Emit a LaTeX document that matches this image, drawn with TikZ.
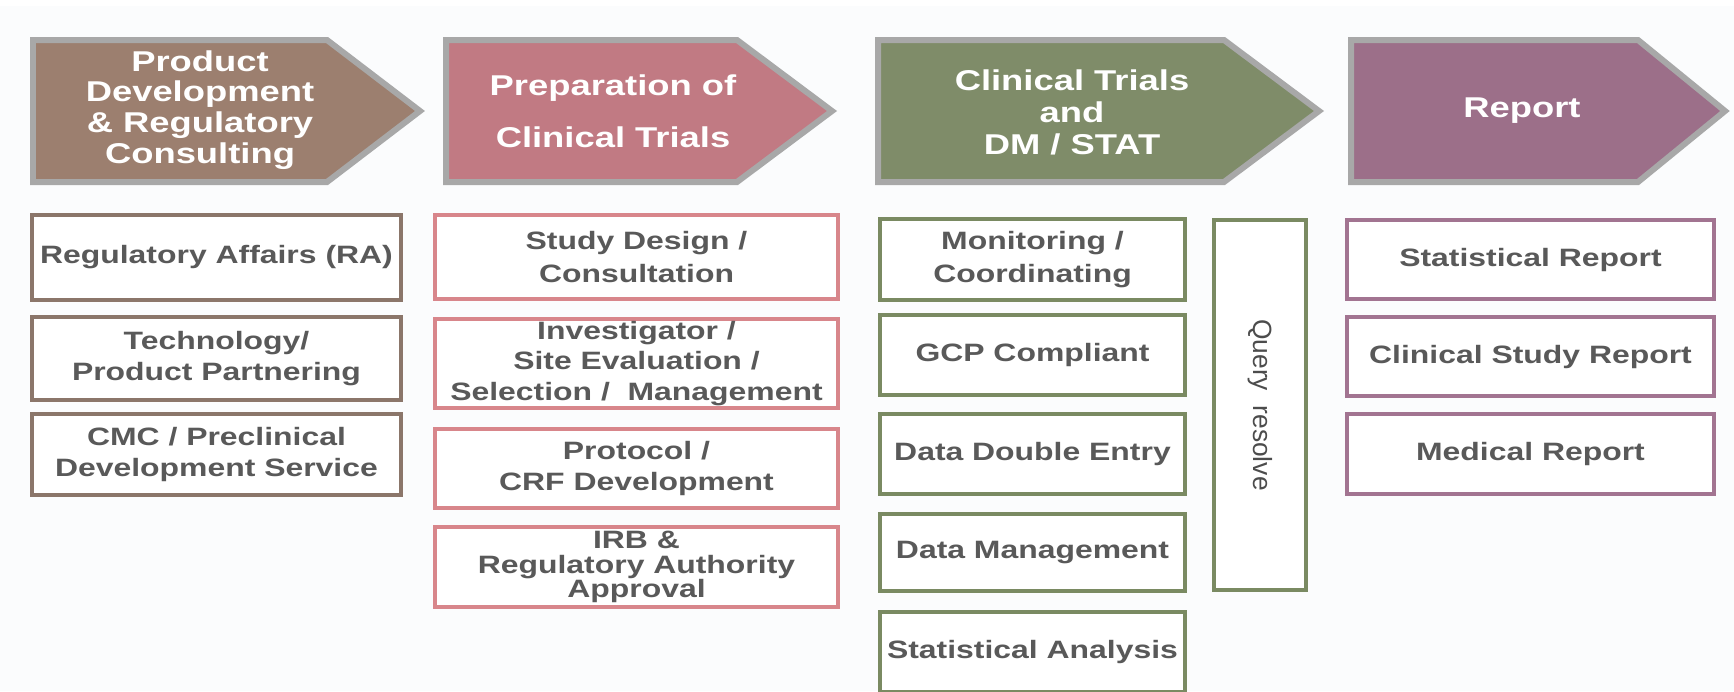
\documentclass[tikz,border=0pt]{standalone}
\usepackage{fontspec}
\newfontfamily\widesans{Liberation Sans}[FakeStretch=1.27]
\newfontfamily\plainsans{Liberation Sans}
\usepackage{tikz}
\definecolor{pdbrown}{HTML}{9C7F6F}
\definecolor{pdbrownline}{HTML}{8B766A}
\definecolor{prpink}{HTML}{C17A83}
\definecolor{prpinkline}{HTML}{D8868B}
\definecolor{ctgreen}{HTML}{7F8C69}
\definecolor{ctgreenline}{HTML}{7A8A62}
\definecolor{rppurple}{HTML}{9C6F89}
\definecolor{rppurpleline}{HTML}{A27491}
\definecolor{hdgray}{HTML}{A8A8A8}
\definecolor{txtgray}{HTML}{595959}
\definecolor{bgfaint}{HTML}{FBFCFD}

\begin{document}
\begin{tikzpicture}[x=0.02cm, y=-0.02cm,
  header/.style={draw=hdgray, line width=0.12cm},
  htext/.style={text=white, align=center, font=\widesans\bfseries\fontsize{16.3}{17.5}\selectfont},
  item/.style={draw, line width=0.08cm, fill=white, text=txtgray, align=center, inner sep=0pt,
    font=\widesans\bfseries\fontsize{14.3}{17.5}\selectfont},
  pdbox/.style={item, draw=pdbrownline, minimum width=7.38cm},
  prbox/.style={item, draw=prpinkline, minimum width=8.06cm},
  ctbox/.style={item, draw=ctgreenline, minimum width=6.10cm},
  rpbox/.style={item, draw=rppurpleline, minimum width=7.34cm}]
  \useasboundingbox (0,0) rectangle (1734,691);
  \fill[bgfaint] (0,6) rectangle (1734,691);

  \draw[header, fill=pdbrown] (33,40) -- (327,40) -- (420,111) -- (327,182) -- (33,182) -- cycle;
  \draw[header, fill=prpink] (446,40) -- (737,40) -- (832,111) -- (737,182) -- (446,182) -- cycle;
  \draw[header, fill=ctgreen] (878,40) -- (1224,40) -- (1319,111) -- (1224,182) -- (878,182) -- cycle;
  \draw[header, fill=rppurple] (1351,40) -- (1638,40) -- (1725,111) -- (1638,182) -- (1351,182) -- cycle;
  \node[htext] (pd) at (200,110) {Product\\Development\\\& Regulatory\\Consulting};
  \node[htext, font=\widesans\bfseries\fontsize{16.3}{16.5}\selectfont] (pr) at (613,111) {Preparation of\\[13pt]Clinical Trials};
  \node[htext, font=\widesans\bfseries\fontsize{16.3}{18.2}\selectfont] (ct) at (1072,112) {Clinical Trials\\and\\DM / STAT};
  \node[htext] (rp) at (1522,111) {Report};

  \node[pdbox, minimum height=1.70cm] (ra) at (216.5,257.5) {Regulatory Affairs (RA)};
  \node[pdbox, minimum height=1.66cm] (tech) at (216.5,358.5) {Technology/\\Product Partnering};
  \node[pdbox, minimum height=1.62cm] (cmc) at (216.5,454.5) {CMC / Preclinical\\Development Service};

  \node[prbox, minimum height=1.68cm] (design) at (636.5,257) {Study Design /\\[1pt]Consultation};
  \node[prbox, minimum height=1.78cm] (site) at (636.5,363.5) {Investigator /\\Site Evaluation /\\Selection /\ \ Management};
  \node[prbox, minimum height=1.58cm] (crf) at (636.5,468.5) {Protocol /\\CRF Development};
  \node[prbox, minimum height=1.60cm] (irb) at (636.5,567) {IRB \&\\[-3.5pt]Regulatory Authority\\[-3.5pt]Approval};

  \node[ctbox, minimum height=1.62cm] (mon) at (1032.5,259.5) {Monitoring /\\[1pt]Coordinating};
  \node[ctbox, minimum height=1.60cm] (gcp) at (1032.5,355) {GCP Compliant};
  \node[ctbox, minimum height=1.60cm] (dde) at (1032.5,454) {Data Double Entry};
  \node[ctbox, minimum height=1.54cm] (dm) at (1032.5,552.5) {Data Management};
  \node[ctbox, minimum height=1.60cm] (sa) at (1032.5,652) {Statistical Analysis};
  \node[item, draw=ctgreenline, rotate=-90, minimum width=7.40cm, minimum height=1.84cm,
    font=\plainsans\fontsize{15}{17}\selectfont, text=txtgray!85!black] (query) at (1260,405) {Query\ \ resolve};

  \node[rpbox, minimum height=1.58cm] (stat) at (1530.5,259.5) {Statistical Report};
  \node[rpbox, minimum height=1.58cm] (csr) at (1530.5,356.5) {Clinical Study Report};
  \node[rpbox, minimum height=1.60cm] (med) at (1530.5,454) {Medical Report};
\end{tikzpicture}
\end{document}
